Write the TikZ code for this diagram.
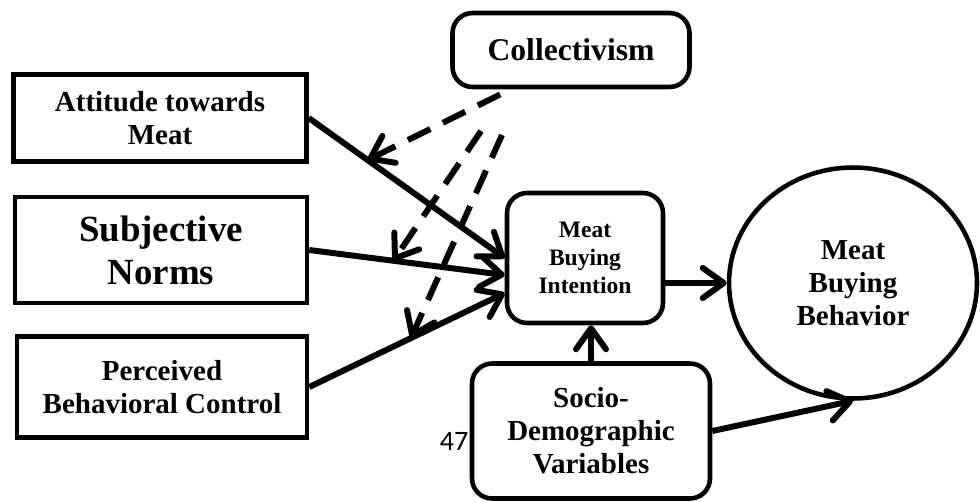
\documentclass[tikz,border=0pt]{standalone}
\usepackage{fontspec}
\setmainfont{Liberation Serif}
\newfontfamily\pagenumfont{Carlito}
\usetikzlibrary{shapes,shapes.geometric,arrows.meta,positioning,calc}

\begin{document}
\begin{tikzpicture}[x=0.02cm, y=-0.02cm]
  \tikzstyle{var}=[rectangle, draw, line width=2.6pt, align=center, inner sep=2pt, font=\fontsize{16.5}{18.7}\selectfont\bfseries]
  \tikzstyle{rvar}=[var, rounded corners=0.4cm]
  \tikzstyle{link}=[line width=3.4pt, -{Straight Barb[length=0.42cm, width=0.6cm, round]}]
  \tikzstyle{modlink}=[link, dash pattern=on 0.5cm off 0.28cm]

  \useasboundingbox (0,0) rectangle (980,501);

  \node[var, minimum width=5.86cm, minimum height=1.74cm] (att) at (160,118) {Attitude towards\\Meat};
  \node[var, minimum width=5.84cm, minimum height=2.12cm, font=\fontsize{21}{24.4}\selectfont\bfseries] (subj) at (161,250) {Subjective\\Norms};
  \node[var, minimum width=5.80cm, minimum height=2.02cm] (pbc) at (162,387) {Perceived\\Behavioral Control};
  \node[rvar, minimum width=4.74cm, minimum height=1.48cm, font=\fontsize{18}{20}\selectfont\bfseries] (coll) at (571,50) {Collectivism};
  \node[rvar, minimum width=3.12cm, minimum height=2.60cm, font=\fontsize{13.4}{15.9}\selectfont\bfseries] (int) at (585,258) {Meat\\Buying\\Intention};
  \node[rvar, minimum width=4.76cm, minimum height=2.70cm] (socio) at (591,431) {Socio-\\Demographic\\Variables};
  \node[ellipse, draw, line width=2.6pt, minimum width=4.96cm, minimum height=4.62cm, align=center, inner sep=0pt, font=\fontsize{16.5}{18.7}\selectfont\bfseries] (beh) at (853,283) {Meat\\Buying\\Behavior};
  \node[font=\pagenumfont\fontsize{16}{18}\selectfont] (pnum) at (454,441) {47};

  % main paths
  \draw[link] (att.east) -- (int.west);
  \draw[link] (subj.east) -- ($(int.west)+(0,17)$);
  \draw[link] (pbc.east) -- ($(int.west)+(0,35)$);
  \draw[link] (int.east |- beh.west) -- (beh.west);
  \draw[link] (socio.north) -- (socio.north |- int.south);
  \draw[link] (socio.east) -- (beh.south);

  % moderation by collectivism
  \coordinate (attmod) at ($(att.east)!0.3!(int.west)$);
  \coordinate (subjmod) at ($(subj.east)!0.43!($(int.west)+(0,17)$)$);
  \coordinate (pbcmod) at ($(pbc.east)!0.52!($(int.west)+(0,35)$)$);
  \coordinate (m1) at (481,131);
  \coordinate (m2) at (502,135);
  \draw[modlink, {Straight Barb[length=0.42cm, width=0.6cm, round]}-] (attmod) -- ($(coll.south west)!0.25!(coll.south east)$);
  \draw[modlink] (m1) -- (subjmod);
  \draw[modlink] (m2) -- (pbcmod);
\end{tikzpicture}
\end{document}
